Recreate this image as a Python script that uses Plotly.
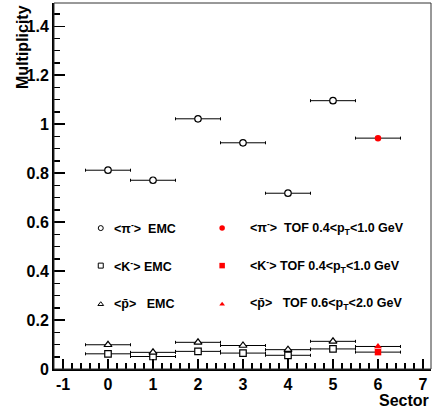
import plotly.graph_objects as go

# ---- data ----
sectors = [0, 1, 2, 3, 4, 5]
pi_emc = [0.812, 0.771, 1.022, 0.924, 0.718, 1.096]
k_emc = [0.062, 0.051, 0.072, 0.065, 0.056, 0.082]
pbar_emc = [0.099, 0.068, 0.109, 0.096, 0.079, 0.113]

tof_sector = [6]
pi_tof = [0.943]
k_tof = [0.069]
pbar_tof = [0.092]

sector_halfwidth = 0.5

x_ticks = [-1, 0, 1, 2, 3, 4, 5, 6, 7]
y_ticks = [0, 0.2, 0.4, 0.6, 0.8, 1.0, 1.2, 1.4]

FONT = "Liberation Sans, Arial, Helvetica, sans-serif"

fig = go.Figure()

def err(n):
    return dict(type="constant", value=sector_halfwidth, color="black",
                thickness=1, width=1.5)

def add_series(x, y, symbol, size, fill, line_color, lw):
    fig.add_trace(go.Scatter(
        x=x, y=y, mode="markers", showlegend=False, hoverinfo="skip",
        error_x=err(len(x)),
        marker=dict(symbol=symbol, size=size, color=fill,
                    line=dict(color=line_color, width=lw)),
    ))

# EMC (open markers with white fill)
add_series(sectors, pi_emc, "circle", 6.5, "white", "black", 1.2)
add_series(sectors, k_emc, "square", 6.5, "white", "black", 1.2)
add_series(sectors, pbar_emc, "triangle-up", 7, "white", "black", 1.2)
# TOF (red filled)
add_series(tof_sector, pbar_tof, "triangle-up", 7, "red", "red", 0)
add_series(tof_sector, k_tof, "square", 6.5, "red", "red", 0)
add_series(tof_sector, pi_tof, "circle", 6.5, "red", "red", 0)

# ---- legend keys (overlay axes in 0..1 frame coords) ----
leg_rows = [0.385, 0.2825, 0.177]
leg_x_emc = 0.124
leg_x_tof = 0.446
emc_symbols = ["circle", "square", "triangle-up"]
tof_symbols = ["circle", "square", "triangle-up"]
for r, s in zip(leg_rows, emc_symbols):
    fig.add_trace(go.Scatter(x=[leg_x_emc], y=[r], mode="markers", showlegend=False,
                             xaxis="x2", yaxis="y2", hoverinfo="skip",
                             marker=dict(symbol=s, size=5, color="white",
                                         line=dict(color="black", width=1))))
for r, s, sz in zip(leg_rows, tof_symbols, [5.5, 5.5, 5]):
    fig.add_trace(go.Scatter(x=[leg_x_tof], y=[r], mode="markers", showlegend=False,
                             xaxis="x2", yaxis="y2", hoverinfo="skip",
                             marker=dict(symbol=s, size=sz, color="red",
                                         line=dict(width=0))))

emc_labels = [
    "&lt;π<sup>-</sup>&gt;\u00a0\u00a0EMC",
    "&lt;K<sup>-</sup>&gt; EMC",
    "&lt;p\u0304&gt;\u00a0\u00a0\u00a0EMC",
]
tof_labels = [
    "&lt;π<sup>-</sup>&gt;\u00a0\u00a0TOF 0.4&lt;p<sub>T</sub>&lt;1.0 GeV",
    "&lt;K<sup>-</sup>&gt; TOF 0.4&lt;p<sub>T</sub>&lt;1.0 GeV",
    "&lt;p\u0304&gt;\u00a0\u00a0\u00a0TOF 0.6&lt;p<sub>T</sub>&lt;2.0 GeV",
]

annotations = []
for r, t in zip(leg_rows, emc_labels):
    annotations.append(dict(xref="paper", yref="paper", x=0.153, y=r, text=t,
                            showarrow=False, xanchor="left", yanchor="middle",
                            font=dict(size=12.5, family=FONT, color="black", weight=700)))
for r, t in zip(leg_rows, tof_labels):
    annotations.append(dict(xref="paper", yref="paper", x=0.514, y=r, text=t,
                            showarrow=False, xanchor="left", yanchor="middle",
                            font=dict(size=12.5, family=FONT, color="black", weight=700)))

annotations.append(dict(xref="paper", yref="paper", x=-0.085, y=1.0, text="Multiplicity",
                        textangle=-90, showarrow=False, xanchor="center", yanchor="top",
                        font=dict(size=16, family=FONT, color="black", weight=700)))
annotations.append(dict(xref="paper", yref="paper", x=1.0, y=-0.085, text="Sector",
                        showarrow=False, xanchor="right", yanchor="middle",
                        font=dict(size=16, family=FONT, color="black", weight=700)))

fig.update_layout(
    width=432, height=415,
    margin=dict(l=54, r=1, t=3, b=46),
    paper_bgcolor="white", plot_bgcolor="white",
    font=dict(family=FONT, color="black", weight=700),
    showlegend=False,
    hovermode=False,
    annotations=annotations,
    shapes=[dict(type="rect", xref="paper", yref="paper", x0=0, x1=1, y0=0, y1=1,
                 line=dict(color="#333", width=1), layer="above")],
    xaxis=dict(range=[-1.2, 7.178], tickvals=x_ticks, ticktext=[str(v) for v in x_ticks],
               ticks="inside", ticklen=10, tickwidth=1.5, tickcolor="black",
               showline=True, linewidth=2, linecolor="black", showgrid=False, zeroline=False,
               tickfont=dict(size=16, family=FONT, color="black", weight=700),
               minor=dict(ticks="inside", ticklen=6, tickwidth=1.5, tickcolor="black",
                          dtick=0.2, tick0=0, showgrid=False)),
    yaxis=dict(range=[0, 1.495], tickvals=y_ticks,
               ticktext=["0", "0.2", "0.4", "0.6", "0.8", "1", "1.2", "1.4"],
               ticks="inside", ticklen=11, tickwidth=1.5, tickcolor="black",
               showline=True, linewidth=2, linecolor="black", showgrid=False, zeroline=False,
               tickfont=dict(size=16, family=FONT, color="black", weight=700),
               minor=dict(ticks="inside", ticklen=6, tickwidth=1.5, tickcolor="black",
                          dtick=0.05, tick0=0, showgrid=False)),
    xaxis2=dict(range=[0, 1], overlaying="x", visible=False, fixedrange=True),
    yaxis2=dict(range=[0, 1], overlaying="y", visible=False, fixedrange=True),
)

fig.write_html(
    "out.html",
    config={"displayModeBar": False, "staticPlot": True},
    post_script="document.body.style.margin='0';document.body.style.overflow='hidden';",
)
